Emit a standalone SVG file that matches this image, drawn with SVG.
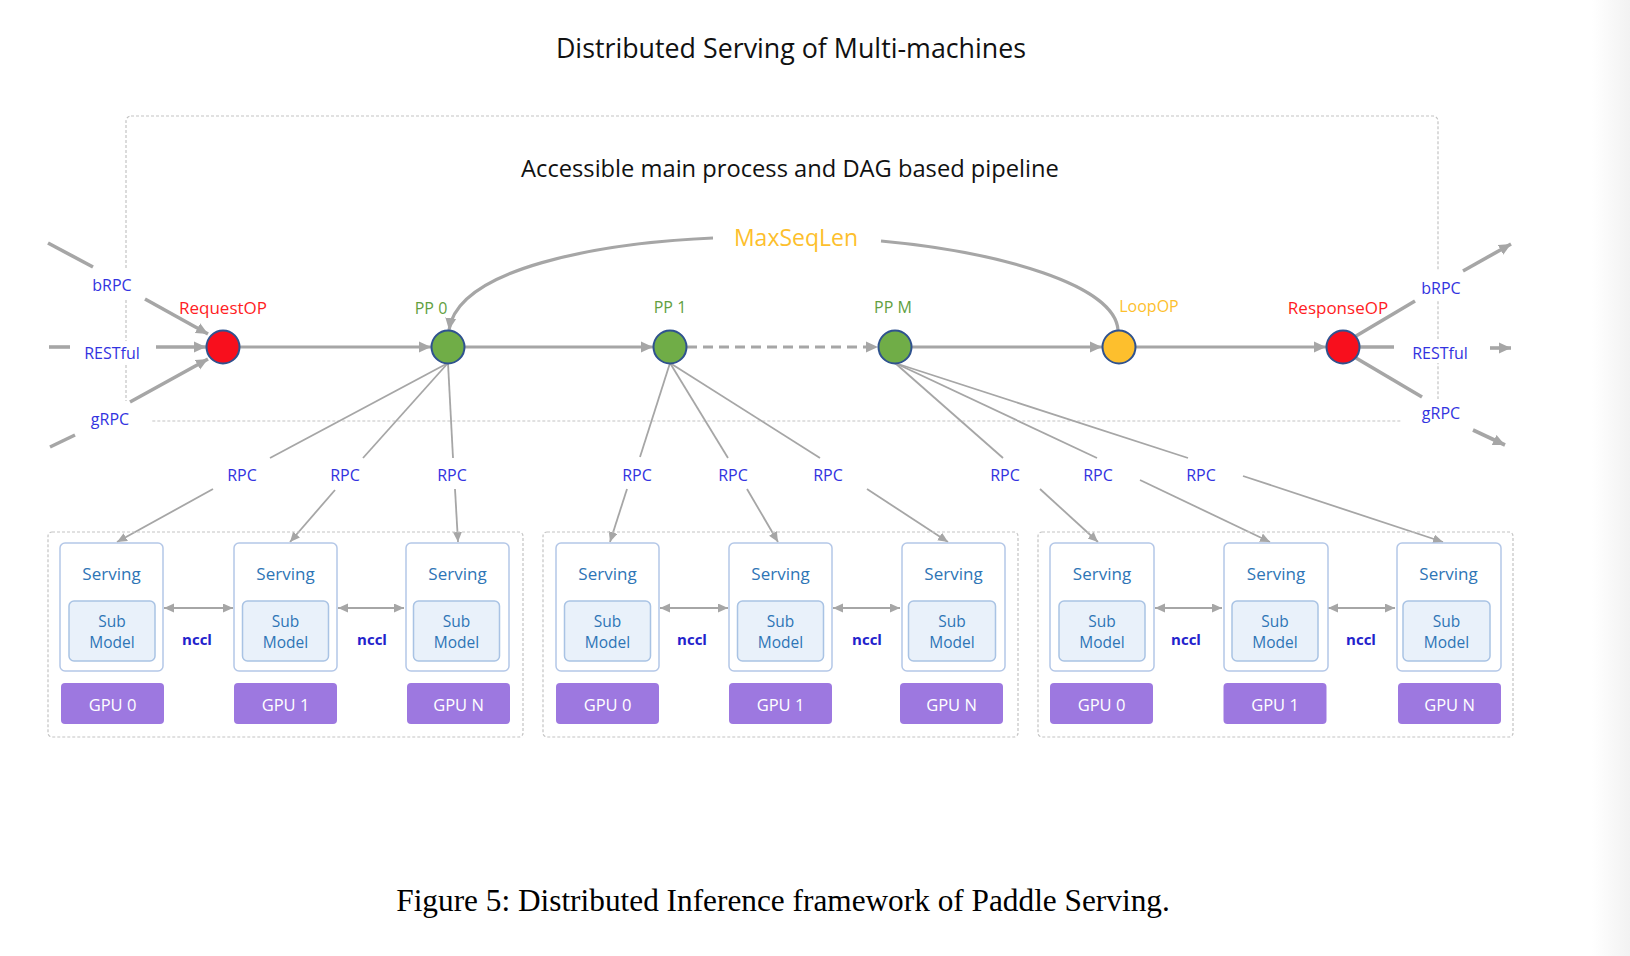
<svg xmlns="http://www.w3.org/2000/svg" width="1630" height="956" viewBox="0 0 1630 956">
<defs>
<linearGradient id="edge" x1="0" x2="1" y1="0" y2="0"><stop offset="0" stop-color="#ffffff"/><stop offset="1" stop-color="#f2f2f2"/></linearGradient>
<marker id="ah" markerUnits="userSpaceOnUse" markerWidth="14" markerHeight="13" refX="12" refY="6" orient="auto"><path d="M0,0.5 L12,6 L0,11.5 z" fill="#a6a6a6"/></marker>
<marker id="as" markerUnits="userSpaceOnUse" markerWidth="11" markerHeight="10" refX="10" refY="4.5" orient="auto"><path d="M0,0 L10,4.5 L0,9 z" fill="#a6a6a6"/></marker>
<marker id="ad" markerUnits="userSpaceOnUse" markerWidth="11" markerHeight="10" refX="10" refY="4.5" orient="auto-start-reverse"><path d="M0,0 L10,4.5 L0,9 z" fill="#a6a6a6"/></marker>
</defs>
<style>
text{font-family:"Open Sans","Noto Sans","DejaVu Sans",sans-serif;text-anchor:middle;dominant-baseline:central}
.title{font-size:26.8px;fill:#111}
.blue{font-size:16px;fill:#3333e0}
.thick{stroke:#a6a6a6;stroke-width:3.6;fill:none}
.main{stroke:#a6a6a6;stroke-width:3.2;fill:none}
.thin{stroke:#a6a6a6;stroke-width:1.8;fill:none}
.frame{fill:none;stroke:#c4c4c4;stroke-width:1.2;stroke-dasharray:3 2}
.op{stroke:#2f528f;stroke-width:2}
.red{fill:#f80f1d}.grn{fill:#70ad47}.gold{fill:#fdbf2d}
.serv{fill:#fff;stroke:#b4c7e7;stroke-width:1.5}
.sub{fill:#e9f1fa;stroke:#a9c3e4;stroke-width:1.5}
.gpu{fill:#9d78e0}
.st{font-size:17px;fill:#2e75b6}
.sm{font-size:15.5px;fill:#2e75b6}
.gt{font-size:16.5px;fill:#fff}
.nccl{font-size:15px;font-weight:bold;fill:#2222cc}
.pp{font-size:16px;fill:#62a03f}
.cap{font-family:"Liberation Serif","Times New Roman",serif;font-size:31.3px;fill:#000}
</style>
<rect x="0" y="0" width="1630" height="956" fill="#fff"/>
<rect x="1592" y="0" width="38" height="956" fill="url(#edge)"/>

<g id="titles">
<text class="title" x="791" y="47">Distributed Serving of Multi-machines</text>
<text class="title" x="790" y="168" style="font-size:23.7px">Accessible main process and DAG based pipeline</text>
</g>

<g id="main-process">
<rect class="frame" x="126" y="116" width="1312" height="305" rx="5"/>
<rect x="86" y="269" width="52" height="30" fill="#fff"/>
<rect x="76" y="341" width="72" height="23" fill="#fff"/>
<rect x="84" y="401" width="68" height="32" fill="#fff"/>
<rect x="1414" y="271" width="54" height="29" fill="#fff"/>
<rect x="1404" y="339" width="72" height="24" fill="#fff"/>
<rect x="1401" y="399" width="78" height="32" fill="#fff"/>
</g>

<g id="connectors">
<line class="thick" x1="48" y1="243" x2="93" y2="267"/>
<line class="thick" x1="145" y1="299" x2="208" y2="334" marker-end="url(#ah)"/>
<line class="thick" x1="49" y1="347" x2="70" y2="347"/>
<line class="thick" x1="156" y1="347" x2="206" y2="347" marker-end="url(#ah)"/>
<line class="thick" x1="50" y1="447" x2="75" y2="435"/>
<line class="thick" x1="130" y1="402" x2="208" y2="359" marker-end="url(#ah)"/>
<line class="thick" x1="1356" y1="336" x2="1415" y2="301"/>
<line class="thick" x1="1463" y1="271" x2="1511" y2="244" marker-end="url(#ah)"/>
<line class="thick" x1="1360" y1="347" x2="1394" y2="347"/>
<line class="thick" x1="1490" y1="348" x2="1511" y2="348" marker-end="url(#ah)"/>
<line class="thick" x1="1356" y1="358" x2="1422" y2="397"/>
<line class="thick" x1="1473" y1="430" x2="1505" y2="445" marker-end="url(#ah)"/>
<line class="main" x1="240" y1="347" x2="431" y2="347" marker-end="url(#ah)"/>
<line class="main" x1="465" y1="347" x2="653" y2="347" marker-end="url(#ah)"/>
<line class="main" x1="687" y1="347" x2="878" y2="347" stroke-dasharray="10 6" marker-end="url(#ah)"/>
<line class="main" x1="912" y1="347" x2="1102" y2="347" marker-end="url(#ah)"/>
<line class="main" x1="1136" y1="347" x2="1326" y2="347" marker-end="url(#ah)"/>
<path class="main" d="M713,238 C600,243 458,268 449,330" marker-end="url(#ah)"/>
<path class="main" d="M881,241 C1000,252 1115,285 1118,330"/>
<text x="796" y="237" style="font-size:23px;fill:#fdbf2d">MaxSeqLen</text>

<line class="thin" x1="448" y1="363" x2="270" y2="458"/>
<line class="thin" x1="213" y1="489" x2="117" y2="542" marker-end="url(#as)"/>
<line class="thin" x1="448" y1="363" x2="363" y2="458"/>
<line class="thin" x1="335" y1="490" x2="290" y2="542" marker-end="url(#as)"/>
<line class="thin" x1="448" y1="363" x2="453" y2="458"/>
<line class="thin" x1="455" y1="489" x2="458" y2="542" marker-end="url(#as)"/>
<line class="thin" x1="670" y1="363" x2="640" y2="457"/>
<line class="thin" x1="627" y1="489" x2="610" y2="542" marker-end="url(#as)"/>
<line class="thin" x1="670" y1="363" x2="728" y2="458"/>
<line class="thin" x1="747" y1="489" x2="778" y2="542" marker-end="url(#as)"/>
<line class="thin" x1="670" y1="363" x2="820" y2="458"/>
<line class="thin" x1="867" y1="489" x2="948" y2="542" marker-end="url(#as)"/>
<line class="thin" x1="895" y1="363" x2="1003" y2="458"/>
<line class="thin" x1="1040" y1="489" x2="1098" y2="542" marker-end="url(#as)"/>
<line class="thin" x1="895" y1="363" x2="1097" y2="458"/>
<line class="thin" x1="1140" y1="480" x2="1270" y2="542" marker-end="url(#as)"/>
<line class="thin" x1="895" y1="363" x2="1188" y2="458"/>
<line class="thin" x1="1243" y1="476" x2="1443" y2="542" marker-end="url(#as)"/>

<text class="blue" x="242" y="475">RPC</text>
<text class="blue" x="345" y="475">RPC</text>
<text class="blue" x="452" y="475">RPC</text>
<text class="blue" x="637" y="475">RPC</text>
<text class="blue" x="733" y="475">RPC</text>
<text class="blue" x="828" y="475">RPC</text>
<text class="blue" x="1005" y="475">RPC</text>
<text class="blue" x="1098" y="475">RPC</text>
<text class="blue" x="1201" y="475">RPC</text>

<text class="blue" x="112" y="285">bRPC</text>
<text class="blue" x="112" y="353">RESTful</text>
<text class="blue" x="110" y="419">gRPC</text>
<text class="blue" x="1441" y="288">bRPC</text>
<text class="blue" x="1440" y="353">RESTful</text>
<text class="blue" x="1441" y="413">gRPC</text>

<line class="thin" x1="164" y1="608" x2="233" y2="608" marker-start="url(#ad)" marker-end="url(#ad)"/>
<line class="thin" x1="338" y1="608" x2="404" y2="608" marker-start="url(#ad)" marker-end="url(#ad)"/>
<line class="thin" x1="660" y1="608" x2="728" y2="608" marker-start="url(#ad)" marker-end="url(#ad)"/>
<line class="thin" x1="833" y1="608" x2="900" y2="608" marker-start="url(#ad)" marker-end="url(#ad)"/>
<line class="thin" x1="1155" y1="608" x2="1222" y2="608" marker-start="url(#ad)" marker-end="url(#ad)"/>
<line class="thin" x1="1328" y1="608" x2="1395" y2="608" marker-start="url(#ad)" marker-end="url(#ad)"/>
<text class="nccl" x="197" y="639">nccl</text>
<text class="nccl" x="372" y="639">nccl</text>
<text class="nccl" x="692" y="639">nccl</text>
<text class="nccl" x="867" y="639">nccl</text>
<text class="nccl" x="1186" y="639">nccl</text>
<text class="nccl" x="1361" y="639">nccl</text>
</g>

<g id="RequestOP"><circle class="op red" cx="223" cy="347" r="16.5"/><text x="223" y="307" style="font-size:17px;fill:#ff1c24">RequestOP</text></g>
<g id="PP0"><circle class="op grn" cx="448" cy="347" r="16.5"/><text class="pp" x="431" y="308">PP 0</text></g>
<g id="PP1"><circle class="op grn" cx="670" cy="347" r="16.5"/><text class="pp" x="670" y="307">PP 1</text></g>
<g id="PPM"><circle class="op grn" cx="895" cy="347" r="16.5"/><text class="pp" x="893" y="307">PP M</text></g>
<g id="LoopOP"><circle class="op gold" cx="1119" cy="347" r="16.5"/><text x="1149" y="306" style="font-size:16px;fill:#fdbf2d">LoopOP</text></g>
<g id="ResponseOP"><circle class="op red" cx="1343" cy="347" r="16.5"/><text x="1338" y="307" style="font-size:17px;fill:#ff1c24">ResponseOP</text></g>

<g id="machine1">
<rect class="frame" x="48" y="532" width="475" height="205" rx="4"/>
<g id="m1-s0"><rect class="serv" x="60" y="543" width="103" height="128" rx="5"/><text class="st" x="111.5" y="573">Serving</text><rect class="sub" x="69" y="601" width="86" height="60" rx="5"/><text class="sm"><tspan x="112" y="621">Sub</tspan><tspan x="112" y="642">Model</tspan></text><rect class="gpu" x="61" y="683" width="103" height="41" rx="4"/><text class="gt" x="112.5" y="704">GPU 0</text></g>
<g id="m1-s1"><rect class="serv" x="234" y="543" width="103" height="128" rx="5"/><text class="st" x="285.5" y="573">Serving</text><rect class="sub" x="242.5" y="601" width="86" height="60" rx="5"/><text class="sm"><tspan x="285.5" y="621">Sub</tspan><tspan x="285.5" y="642">Model</tspan></text><rect class="gpu" x="234" y="683" width="103" height="41" rx="4"/><text class="gt" x="285.5" y="704">GPU 1</text></g>
<g id="m1-sN"><rect class="serv" x="406" y="543" width="103" height="128" rx="5"/><text class="st" x="457.5" y="573">Serving</text><rect class="sub" x="413.5" y="601" width="86" height="60" rx="5"/><text class="sm"><tspan x="456.5" y="621">Sub</tspan><tspan x="456.5" y="642">Model</tspan></text><rect class="gpu" x="407" y="683" width="103" height="41" rx="4"/><text class="gt" x="458.5" y="704">GPU N</text></g>
</g>

<g id="machine2">
<rect class="frame" x="543" y="532" width="475" height="205" rx="4"/>
<g id="m2-s0"><rect class="serv" x="556" y="543" width="103" height="128" rx="5"/><text class="st" x="607.5" y="573">Serving</text><rect class="sub" x="564.5" y="601" width="86" height="60" rx="5"/><text class="sm"><tspan x="607.5" y="621">Sub</tspan><tspan x="607.5" y="642">Model</tspan></text><rect class="gpu" x="556" y="683" width="103" height="41" rx="4"/><text class="gt" x="607.5" y="704">GPU 0</text></g>
<g id="m2-s1"><rect class="serv" x="729" y="543" width="103" height="128" rx="5"/><text class="st" x="780.5" y="573">Serving</text><rect class="sub" x="737.5" y="601" width="86" height="60" rx="5"/><text class="sm"><tspan x="780.5" y="621">Sub</tspan><tspan x="780.5" y="642">Model</tspan></text><rect class="gpu" x="729" y="683" width="103" height="41" rx="4"/><text class="gt" x="780.5" y="704">GPU 1</text></g>
<g id="m2-sN"><rect class="serv" x="902" y="543" width="103" height="128" rx="5"/><text class="st" x="953.5" y="573">Serving</text><rect class="sub" x="908.5" y="601" width="87" height="60" rx="5"/><text class="sm"><tspan x="952" y="621">Sub</tspan><tspan x="952" y="642">Model</tspan></text><rect class="gpu" x="900" y="683" width="103" height="41" rx="4"/><text class="gt" x="951.5" y="704">GPU N</text></g>
</g>

<g id="machine3">
<rect class="frame" x="1038" y="532" width="475" height="205" rx="4"/>
<g id="m3-s0"><rect class="serv" x="1050" y="543" width="104" height="128" rx="5"/><text class="st" x="1102" y="573">Serving</text><rect class="sub" x="1059" y="601" width="86" height="60" rx="5"/><text class="sm"><tspan x="1102" y="621">Sub</tspan><tspan x="1102" y="642">Model</tspan></text><rect class="gpu" x="1050" y="683" width="103" height="41" rx="4"/><text class="gt" x="1101.5" y="704">GPU 0</text></g>
<g id="m3-s1"><rect class="serv" x="1224" y="543" width="104" height="128" rx="5"/><text class="st" x="1276" y="573">Serving</text><rect class="sub" x="1232" y="601" width="86" height="60" rx="5"/><text class="sm"><tspan x="1275" y="621">Sub</tspan><tspan x="1275" y="642">Model</tspan></text><rect class="gpu" x="1223.5" y="683" width="103" height="41" rx="4"/><text class="gt" x="1275" y="704">GPU 1</text></g>
<g id="m3-sN"><rect class="serv" x="1397" y="543" width="104" height="128" rx="5"/><text class="st" x="1448.5" y="573">Serving</text><rect class="sub" x="1403" y="601" width="87" height="60" rx="5"/><text class="sm"><tspan x="1446.5" y="621">Sub</tspan><tspan x="1446.5" y="642">Model</tspan></text><rect class="gpu" x="1398" y="683" width="103" height="41" rx="4"/><text class="gt" x="1449.5" y="704">GPU N</text></g>
</g>

<g id="caption">
<text class="cap" x="783" y="900">Figure 5: Distributed Inference framework of Paddle Serving.</text>
</g>
</svg>
